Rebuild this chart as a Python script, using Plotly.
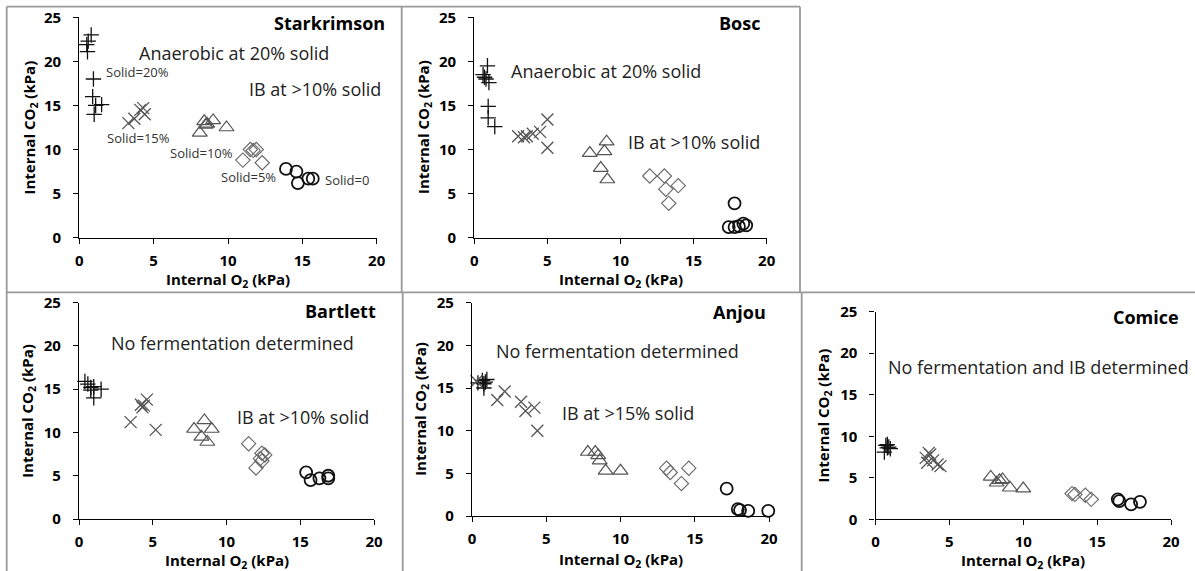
import plotly.graph_objects as go

W, H = 1195, 571

# ---------------- data (Internal O2, Internal CO2 in kPa) ----------------
stark_o2_20 = [0.8, 0.6, 0.5, 0.55, 0.95, 0.9, 1.1, 1.5, 1.0]
stark_co2_20 = [23.0, 22.3, 21.9, 21.1, 18.0, 16.0, 15.0, 15.1, 14.0]
stark_o2_15 = [3.3, 3.7, 4.1, 4.3, 4.4]
stark_co2_15 = [13.0, 13.5, 14.5, 14.7, 14.0]
stark_o2_10 = [8.1, 8.4, 8.5, 8.6, 9.0, 9.9]
stark_co2_10 = [11.9, 13.2, 12.8, 12.9, 13.3, 12.5]
stark_o2_5 = [11.0, 11.5, 11.7, 11.9, 12.3]
stark_co2_5 = [8.8, 10.0, 9.9, 10.0, 8.5]
stark_o2_0 = [13.9, 14.6, 14.7, 15.4, 15.7]
stark_co2_0 = [7.8, 7.5, 6.2, 6.7, 6.7]

bosc_o2_20 = [0.9, 0.6, 0.7, 0.8, 1.0, 0.95, 0.95, 1.4]
bosc_co2_20 = [19.5, 18.5, 18.2, 18.0, 17.6, 14.9, 13.6, 12.6]
bosc_o2_15 = [3.0, 3.4, 3.6, 4.0, 4.5, 5.0, 5.0]
bosc_co2_15 = [11.5, 11.4, 11.5, 11.8, 12.0, 13.4, 10.2]
bosc_o2_10 = [7.9, 9.05, 8.9, 8.65, 9.1]
bosc_co2_10 = [9.6, 10.9, 9.8, 7.9, 6.6]
bosc_o2_5 = [12.0, 13.0, 13.1, 13.95, 13.3]
bosc_co2_5 = [7.0, 7.0, 5.5, 5.9, 3.9]
bosc_o2_0 = [17.8, 17.4, 17.8, 18.1, 18.4, 18.6]
bosc_co2_0 = [3.9, 1.2, 1.2, 1.3, 1.6, 1.4]

bart_o2_20 = [0.4, 0.6, 0.8, 0.8, 1.0, 1.5, 1.0]
bart_co2_20 = [15.9, 15.6, 15.2, 14.9, 15.3, 15.0, 14.0]
bart_o2_15 = [3.5, 4.2, 4.3, 4.4, 4.6, 5.2]
bart_co2_15 = [11.2, 13.2, 12.9, 13.1, 13.8, 10.3]
bart_o2_10 = [7.8, 8.5, 9.0, 8.3, 8.7]
bart_co2_10 = [10.4, 11.4, 10.4, 9.5, 8.9]
bart_o2_5 = [11.5, 12.4, 12.6, 12.3, 12.4, 12.0]
bart_co2_5 = [8.7, 7.6, 7.4, 7.0, 6.7, 5.9]
bart_o2_0 = [15.4, 15.7, 16.3, 16.9, 16.9]
bart_co2_0 = [5.4, 4.5, 4.7, 5.0, 4.7]

anjou_o2_20 = [0.4, 0.7, 0.8, 0.9, 1.0, 0.8]
anjou_co2_20 = [15.6, 15.9, 15.5, 15.7, 16.0, 15.0]
anjou_o2_15 = [0.3, 1.7, 2.2, 3.3, 3.6, 4.2, 4.4]
anjou_co2_15 = [15.8, 13.6, 14.6, 13.4, 12.3, 12.7, 10.0]
anjou_o2_10 = [7.8, 8.3, 8.5, 8.6, 9.0, 10.0]
anjou_co2_10 = [7.5, 7.5, 7.1, 6.5, 5.3, 5.3]
anjou_o2_5 = [13.1, 13.35, 14.1, 14.6]
anjou_co2_5 = [5.6, 5.1, 3.8, 5.6]
anjou_o2_0 = [17.15, 17.9, 18.05, 18.6, 19.95]
anjou_co2_0 = [3.2, 0.8, 0.7, 0.6, 0.6]

com_o2_20 = [0.6, 0.7, 0.8, 0.9, 1.0, 0.8]
com_co2_20 = [8.1, 8.9, 8.6, 8.7, 8.5, 9.0]
com_o2_15 = [3.4, 3.5, 3.6, 3.7, 3.9, 4.2, 4.4]
com_co2_15 = [7.4, 6.8, 8.0, 7.8, 7.1, 6.6, 6.4]
com_o2_10 = [7.8, 8.2, 8.4, 8.6, 9.1, 10.0]
com_co2_10 = [5.1, 4.4, 4.7, 4.8, 3.8, 3.7]
com_o2_5 = [13.3, 13.5, 14.2, 14.6]
com_co2_5 = [3.1, 3.0, 2.9, 2.4]
com_o2_0 = [16.4, 16.5, 17.3, 17.9]
com_co2_0 = [2.4, 2.2, 1.8, 2.1]

cultivars = ["Starkrimson", "Bosc", "Bartlett", "Anjou", "Comice"]
solid_levels = ["Solid=20%", "Solid=15%", "Solid=10%", "Solid=5%", "Solid=0"]
x_ticks = [0, 5, 10, 15, 20]
y_ticks = [0, 5, 10, 15, 20, 25]
x_title = "Internal O<sub>2</sub> (kPa)"
y_title = "Internal CO<sub>2</sub> (kPa)"

series = {
    "Starkrimson": [(stark_o2_20, stark_co2_20), (stark_o2_15, stark_co2_15), (stark_o2_10, stark_co2_10),
                    (stark_o2_5, stark_co2_5), (stark_o2_0, stark_co2_0)],
    "Bosc": [(bosc_o2_20, bosc_co2_20), (bosc_o2_15, bosc_co2_15), (bosc_o2_10, bosc_co2_10),
             (bosc_o2_5, bosc_co2_5), (bosc_o2_0, bosc_co2_0)],
    "Bartlett": [(bart_o2_20, bart_co2_20), (bart_o2_15, bart_co2_15), (bart_o2_10, bart_co2_10),
                 (bart_o2_5, bart_co2_5), (bart_o2_0, bart_co2_0)],
    "Anjou": [(anjou_o2_20, anjou_co2_20), (anjou_o2_15, anjou_co2_15), (anjou_o2_10, anjou_co2_10),
              (anjou_o2_5, anjou_co2_5), (anjou_o2_0, anjou_co2_0)],
    "Comice": [(com_o2_20, com_co2_20), (com_o2_15, com_co2_15), (com_o2_10, com_co2_10),
               (com_o2_5, com_co2_5), (com_o2_0, com_co2_0)],
}

# ---------------- styles ----------------
marker_styles = [
    dict(symbol="cross-thin-open", size=11, color="#111111", line=dict(color="#111111", width=1.3)),
    dict(symbol="x-thin-open", size=12, color="#555555", line=dict(color="#555555", width=1.3)),
    dict(symbol="triangle-up-open", size=13, color="#555555", line=dict(color="#555555", width=1.2)),
    dict(symbol="diamond-open", size=11, color="#666666", line=dict(color="#666666", width=1.1)),
    dict(symbol="circle-open", size=12, color="#111111", line=dict(color="#111111", width=1.8)),
]

# pixel boxes of each plot area: (x0, x1, ytop, ybottom)
boxes = {
    "Starkrimson": (79.3, 376.7, 17.3, 237.7),
    "Bosc": (474.3, 766.7, 17.3, 237.7),
    "Bartlett": (79.0, 374.0, 302.7, 519.0),
    "Anjou": (472.0, 769.0, 302.7, 516.0),
    "Comice": (875.5, 1171.0, 311.7, 519.3),
}
# axis-title pixel positions: x-title centre y, y-title centre x
x_title_y = {"Starkrimson": 280, "Bosc": 280, "Bartlett": 560.5, "Anjou": 560, "Comice": 560.5}
y_title_x = {"Starkrimson": 30, "Bosc": 424.5, "Bartlett": 28, "Anjou": 421.5, "Comice": 823}

FONT = "Open Sans"

fig = go.Figure()

def px_x(p):
    return p / W

def px_y(p):
    return 1 - p / H

annotations = []

for i, name in enumerate(cultivars):
    k = "" if i == 0 else str(i + 1)
    x0, x1, yt, yb = boxes[name]
    for (xs, ys), ms in zip(series[name], marker_styles):
        fig.add_trace(go.Scatter(x=xs, y=ys, mode="markers", marker=ms,
                                 xaxis="x" + k, yaxis="y" + k, showlegend=False,
                                 cliponaxis=False, hoverinfo="x+y"))
    common = dict(showline=True, linecolor="black", linewidth=1.3, ticks="outside",
                  ticklen=5, tickcolor="black", tickwidth=1.3, showgrid=False, zeroline=False,
                  automargin=False,
                  tickfont=dict(family=FONT, size=15, color="black", weight="bold"))
    fig.layout["xaxis" + k] = dict(
        domain=[px_x(x0), px_x(x1)], range=[0, 20], tickvals=x_ticks,
        anchor="y" + k, ticklabelstandoff=4, **common)
    fig.layout["yaxis" + k] = dict(
        domain=[px_y(yb), px_y(yt)], range=[0, 25], tickvals=y_ticks,
        anchor="x" + k, ticklabelstandoff=9, **common)
    # axis titles
    annotations.append(dict(text="<b>%s</b>" % x_title, xref="paper", yref="paper",
                            x=px_x((x0 + x1) / 2), y=px_y(x_title_y[name]),
                            xanchor="center", yanchor="middle", showarrow=False,
                            font=dict(family=FONT, size=15, color="black")))
    annotations.append(dict(text="<b>%s</b>" % y_title, xref="paper", yref="paper",
                            x=px_x(y_title_x[name]), y=px_y((yt + yb) / 2), textangle=-90,
                            xanchor="center", yanchor="middle", showarrow=False,
                            font=dict(family=FONT, size=15, color="black")))

def title_ann(text, xr, yc):
    annotations.append(dict(text="<b>%s</b>" % text, xref="paper", yref="paper",
                            x=px_x(xr), y=px_y(yc), xanchor="right", yanchor="middle",
                            showarrow=False, font=dict(family=FONT, size=18, color="black")))

def data_ann(text, k, x, y, size=18, color="#222222"):
    annotations.append(dict(text=text, xref="x" + k, yref="y" + k, x=x, y=y,
                            xanchor="center", yanchor="middle", showarrow=False,
                            font=dict(family=FONT, size=size, color=color)))

title_ann("Starkrimson", 387, 23)
title_ann("Bosc", 762, 23)
title_ann("Bartlett", 378, 310.7)
title_ann("Anjou", 768, 312)
title_ann("Comice", 1181, 316.7)

data_ann("Anaerobic at 20% solid", "", 10.4, 20.9)
data_ann("IB at &gt;10% solid", "", 15.85, 16.9)
label_pos = [(3.9, 18.8), (3.97, 11.3), (8.2, 9.6), (11.4, 6.9), (18.0, 6.5)]
for lbl, (lx, ly) in zip(solid_levels, label_pos):
    data_ann(lbl, "", lx, ly, size=13, color="#333333")

data_ann("Anaerobic at 20% solid", "2", 9.0, 18.9)
data_ann("IB at &gt;10% solid", "2", 15.0, 10.9)
data_ann("No fermentation determined", "3", 10.4, 20.3)
data_ann("IB at &gt;10% solid", "3", 15.2, 11.8)
data_ann("No fermentation determined", "4", 9.8, 19.3)
data_ann("IB at &gt;15% solid", "4", 10.5, 12.1)
data_ann("No fermentation and IB determined", "5", 11.04, 18.3)

# panel frame lines (gray)
gray = "#9a9a9a"
shapes = []

def line(xa, ya, xb, yb):
    shapes.append(dict(type="line", xref="paper", yref="paper",
                       x0=px_x(xa), y0=px_y(ya), x1=px_x(xb), y1=px_y(yb),
                       line=dict(color=gray, width=1.8)))

line(6.7, 6.7, 800, 6.7)       # top of upper row
line(6.7, 6.7, 6.7, 571)       # left edge
line(401.7, 6.7, 401.7, 292.3) # divider upper row
line(800, 6.7, 800, 292.3)     # right edge upper row
line(6.7, 292.3, 1195, 292.3)  # row divider
line(402.7, 292.3, 402.7, 571) # divider lower row
line(801.7, 292.3, 801.7, 571) # divider lower row

fig.update_layout(width=W, height=H, margin=dict(l=0, r=0, t=0, b=0),
                  paper_bgcolor="white", plot_bgcolor="white",
                  annotations=annotations, shapes=shapes, showlegend=False,
                  font=dict(family=FONT))

fig.write_html("out.html", config={"displayModeBar": False},
               post_script="document.body.style.margin='0';document.body.style.overflow='hidden';")
